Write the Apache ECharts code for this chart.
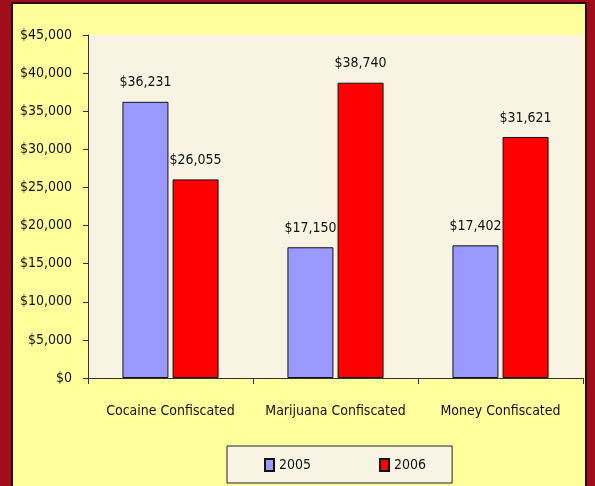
<!DOCTYPE html>
<html>
<head>
<meta charset="utf-8">
<script src="https://cdn.jsdelivr.net/npm/echarts@6/dist/echarts.min.js"></script>
<style>
  html, body { margin: 0; padding: 0; }
  body { width: 595px; height: 486px; background: #a20d1b; position: relative; overflow: hidden; }
  #frame { position: absolute; left: 11px; top: 2px; width: 572px; height: 490px; border: 2px solid #2a0808; background: #ffff9c; }
  #chart { position: absolute; left: 0; top: 0; width: 572px; height: 482px; }
</style>
</head>
<body>
<div id="frame"><div id="chart"></div></div>
<script>
// drug seizure values, 2005 vs 2006
const categories = ["Cocaine Confiscated", "Marijuana Confiscated", "Money Confiscated"];
const values2005 = [36231, 17150, 17402];
const values2006 = [26055, 38740, 31621];
const seriesNames = ["2005", "2006"];

const FONT = "'DejaVu Sans Condensed', 'Liberation Sans Narrow', 'Arial Narrow', sans-serif";
const FS = 14;
const money = (v) => "$" + v.toLocaleString("en-US");

const chart = echarts.init(document.getElementById("chart"), null, { renderer: "canvas" });

const barStyle = (color) => ({
  color: color,
  borderColor: "#111",
  borderWidth: 1,
});

const labelStyle = {
  show: true,
  position: "top",
  distance: 12,
  color: "#111",
  fontFamily: FONT,
  fontSize: FS,
  formatter: (p) => money(p.value),
};

chart.setOption({
  backgroundColor: "transparent",
  animation: false,
  grid: {
    left: 75,
    right: 2,
    top: 31,
    bottom: 108,
    show: true,
    backgroundColor: "#f8f3e3",
    borderWidth: 0,
  },
  legend: {
    data: seriesNames,
    left: 214,
    top: 442,
    padding: [12, 26, 11, 37],
    itemGap: 68,
    itemWidth: 9,
    itemHeight: 12,
    icon: "rect",
    backgroundColor: "#f8f3e3",
    borderColor: "#222",
    borderWidth: 1,
    textStyle: { fontFamily: FONT, fontSize: FS, color: "#111" },
  },
  xAxis: {
    type: "category",
    data: categories,
    axisLine: { lineStyle: { color: "#333", width: 1 } },
    axisTick: { show: true, length: 6, inside: false, lineStyle: { color: "#333" } },
    axisLabel: { margin: 26, interval: 0, color: "#111", fontFamily: FONT, fontSize: FS },
  },
  yAxis: {
    type: "value",
    min: 0,
    max: 45000,
    interval: 5000,
    axisLine: { show: true, lineStyle: { color: "#333", width: 1 } },
    axisTick: { show: true, length: 5, lineStyle: { color: "#333" } },
    splitLine: { show: false },
    axisLabel: {
      margin: 16,
      color: "#111",
      fontFamily: FONT,
      fontSize: FS,
      formatter: money,
    },
  },
  series: [
    {
      name: seriesNames[0],
      type: "bar",
      data: values2005,
      barWidth: 46,
      barGap: "9%",
      itemStyle: barStyle("#9999ff"),
      label: labelStyle,
    },
    {
      name: seriesNames[1],
      type: "bar",
      data: values2006,
      barWidth: 46,
      itemStyle: barStyle("#ff0000"),
      label: labelStyle,
    },
  ],
});
</script>
</body>
</html>
